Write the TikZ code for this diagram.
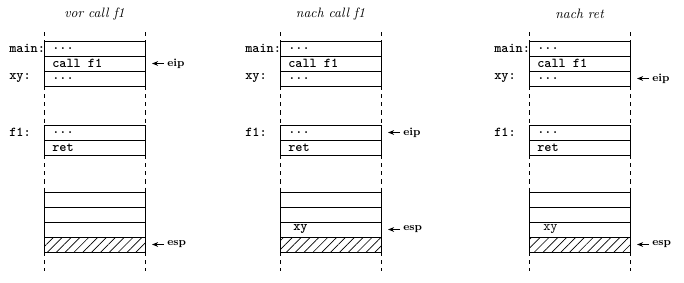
\documentclass[tikz,border=0pt]{standalone}
\usetikzlibrary{patterns.meta,arrows.meta}
\begin{document}
\begin{tikzpicture}[x=0.735pt,y=-0.735pt,
  frame/.style={line width=0.7pt},
  vdash/.style={line width=0.55pt, dash pattern=on 3pt off 3pt},
  hatch/.style={pattern={Lines[angle=45,distance=4.6pt,line width=0.5pt]}},
  celltxt/.style={anchor=west, inner sep=0pt, font=\ttfamily\bfseries},
  celltxtrm/.style={anchor=west, inner sep=0pt, font=\ttfamily},
  lbl/.style={anchor=west, inner sep=0pt, font=\ttfamily\bfseries},
  ptr/.style={anchor=west, inner sep=0pt, font=\footnotesize\bfseries},
  ptrarrow/.style={-{Stealth[length=4.5pt,width=3.5pt]}, line width=0.75pt},
  ttl/.style={font=\itshape, inner sep=0pt}]
\useasboundingbox (0,0) rectangle (684,282);
\newcommand\drawframe{%
  \draw[vdash] (44,32) -- (44,41) (145,32) -- (145,41);
  \draw[frame] (44,41) rectangle (145,86) (44,56) -- (145,56) (44,71) -- (145,71);
  \draw[vdash] (44,86) -- (44,125) (145,86) -- (145,125);
  \draw[frame] (44,125) rectangle (145,155) (44,140) -- (145,140);
  \draw[vdash] (44,155) -- (44,192) (145,155) -- (145,192);
  \draw[frame, hatch] (44,237) rectangle (145,252);
  \draw[frame] (44,192) rectangle (145,252) (44,207) -- (145,207) (44,222) -- (145,222) (44,237) -- (145,237);
  \draw[vdash] (44,252) -- (44,271) (145,252) -- (145,271);
}
% Panel 1
\begin{scope}
  \drawframe
  \node[ttl] (t1) at (94.5,14) {vor call f1};
  \node[lbl] (a-main) at (9,48.5) {main:};
  \node[lbl] (a-xy) at (9,78.5) {xy:};
  \node[lbl] (a-f1) at (9,132.5) {f1:};
  \node[celltxt] (a-c1) at (52,48.5) {...};
  \node[celltxt] (a-c2) at (52,63.5) {call f1};
  \node[celltxt] (a-c3) at (52,78.5) {...};
  \node[celltxt] (a-c4) at (52,132.5) {...};
  \node[celltxt] (a-c5) at (52,147.5) {ret};
  \node[ptr] (a-eip) at (167,63.5) {eip};
  \coordinate (a-eipt) at (152,63.5);
  \draw[ptrarrow] (a-eip.west) ++(-3,0) -- (a-eipt);
  \node[ptr] (a-esp) at (167,244.5) {esp};
  \coordinate (a-espt) at (152,244.5);
  \draw[ptrarrow] (a-esp.west) ++(-3,0) -- (a-espt);
\end{scope}
% Panel 2
\begin{scope}[shift={(236,0)}]
  \drawframe
  \node[ttl] (t2) at (94.5,14) {nach call f1};
  \node[lbl] (b-main) at (9,48.5) {main:};
  \node[lbl] (b-xy) at (9,78.5) {xy:};
  \node[lbl] (b-f1) at (9,132.5) {f1:};
  \node[celltxt] (b-c1) at (52,48.5) {...};
  \node[celltxt] (b-c2) at (52,63.5) {call f1};
  \node[celltxt] (b-c3) at (52,78.5) {...};
  \node[celltxt] (b-c4) at (52,132.5) {...};
  \node[celltxt] (b-c5) at (52,147.5) {ret};
  \node[celltxt] (b-c6) at (57,229.5) {xy};
  \node[ptr] (b-eip) at (167,132.5) {eip};
  \coordinate (b-eipt) at (152,132.5);
  \draw[ptrarrow] (b-eip.west) ++(-3,0) -- (b-eipt);
  \node[ptr] (b-esp) at (167,229.5) {esp};
  \coordinate (b-espt) at (152,229.5);
  \draw[ptrarrow] (b-esp.west) ++(-3,0) -- (b-espt);
\end{scope}
% Panel 3
\begin{scope}[shift={(485,0)}]
  \drawframe
  \node[ttl] (t3) at (94.5,14) {nach ret};
  \node[lbl] (c-main) at (9,48.5) {main:};
  \node[lbl] (c-xy) at (9,78.5) {xy:};
  \node[lbl] (c-f1) at (9,132.5) {f1:};
  \node[celltxt] (c-c1) at (52,48.5) {...};
  \node[celltxt] (c-c2) at (52,63.5) {call f1};
  \node[celltxt] (c-c3) at (52,78.5) {...};
  \node[celltxt] (c-c4) at (52,132.5) {...};
  \node[celltxt] (c-c5) at (52,147.5) {ret};
  \node[celltxtrm] (c-c6) at (58,229.5) {xy};
  \node[ptr] (c-eip) at (167,78.5) {eip};
  \coordinate (c-eipt) at (152,78.5);
  \draw[ptrarrow] (c-eip.west) ++(-3,0) -- (c-eipt);
  \node[ptr] (c-esp) at (167,244.5) {esp};
  \coordinate (c-espt) at (152,244.5);
  \draw[ptrarrow] (c-esp.west) ++(-3,0) -- (c-espt);
\end{scope}
\end{tikzpicture}
\end{document}
